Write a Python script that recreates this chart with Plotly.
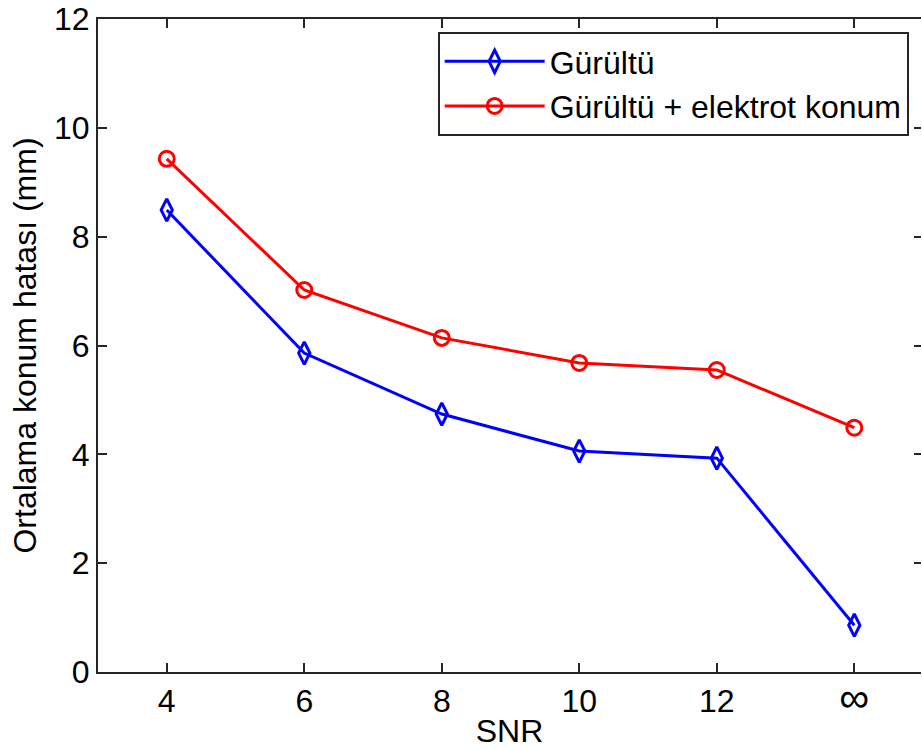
import plotly.graph_objects as go

snr_labels = ["4", "6", "8", "10", "12", "<span style='font-size:42px'>∞</span>"]
snr_pos = [4, 6, 8, 10, 12, 14]
gurultu = [8.49, 5.86, 4.74, 4.06, 3.93, 0.86]
gurultu_elektrot = [9.43, 7.02, 6.14, 5.68, 5.55, 4.49]
y_ticks = [0, 2, 4, 6, 8, 10, 12]

FONT = "Liberation Sans, Arial, sans-serif"
FS = 32

fig = go.Figure()
fig.add_trace(go.Scatter(
    x=snr_pos, y=gurultu, mode="lines+markers", name="Gürültü",
    line=dict(color="#0000ff", width=3),
    marker=dict(symbol="diamond-tall-open", size=16, color="#0000ff", line=dict(width=3)),
))
fig.add_trace(go.Scatter(
    x=snr_pos, y=gurultu_elektrot, mode="lines+markers", name="Gürültü + elektrot konum",
    line=dict(color="#ff0000", width=3),
    marker=dict(symbol="circle-open", size=15, color="#ff0000", line=dict(width=3)),
))
# invisible trace to create right-side inward ticks
fig.add_trace(go.Scatter(x=[snr_pos[0]], y=[0], yaxis="y2", showlegend=False,
                         mode="markers", marker=dict(opacity=0), hoverinfo="skip"))

fig.update_layout(
    width=922, height=749,
    margin=dict(l=98, r=1, t=19, b=77),
    paper_bgcolor="white", plot_bgcolor="white",
    font=dict(family=FONT, size=FS, color="black"),
    xaxis=dict(
        range=[3, 14.97], tickvals=snr_pos, ticktext=snr_labels,
        ticks="inside", ticklen=9, tickwidth=2, tickcolor="#262626",
        showline=True, linecolor="#262626", linewidth=2, mirror="ticks",
        showgrid=False, zeroline=False,
        title=dict(text="SNR", font=dict(size=FS), standoff=0),
        tickfont=dict(size=FS),
    ),
    yaxis=dict(
        range=[0, 12], tickvals=y_ticks,
        ticks="inside", ticklen=9, tickwidth=2, tickcolor="#262626",
        showline=True, linecolor="#262626", linewidth=2, mirror=False,
        showgrid=False, zeroline=False,
        title=dict(text="Ortalama konum hatası (mm)", font=dict(size=FS), standoff=8),
        tickfont=dict(size=FS),
    ),
    yaxis2=dict(
        range=[0, 12], tickvals=y_ticks, overlaying="y", side="right",
        ticks="inside", ticklen=7, tickwidth=2, tickcolor="#262626",
        showticklabels=False, showline=False, showgrid=False, zeroline=False,
    ),
    legend=dict(
        x=0.985, y=0.98, xanchor="right", yanchor="top",
        bgcolor="white", bordercolor="#262626", borderwidth=2,
        font=dict(size=FS), tracegroupgap=0, itemwidth=100,
    ),
    showlegend=True,
)

fig.write_html("out.html")
